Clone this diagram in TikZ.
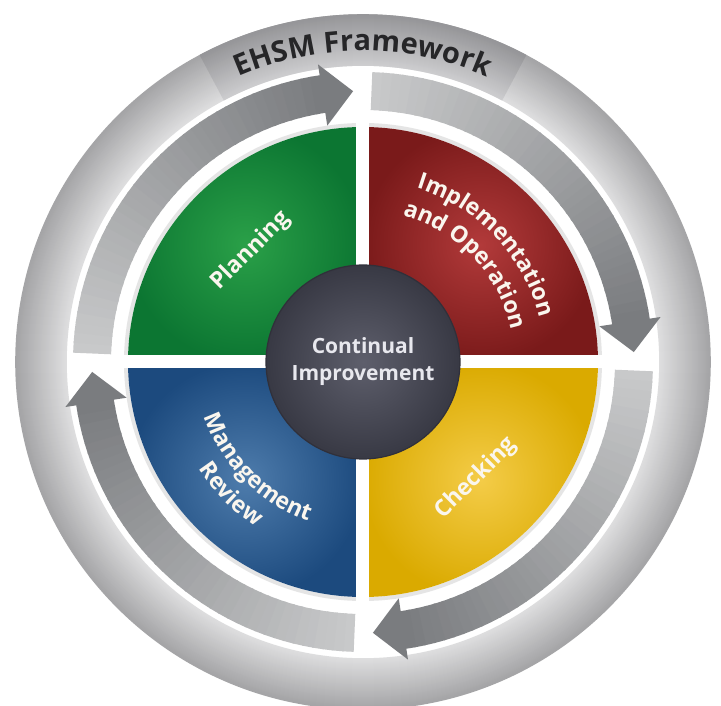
\documentclass[tikz,border=0pt]{standalone}
\usepackage{fontspec}
\setmainfont{Open Sans}
\usetikzlibrary{decorations.text}
\definecolor{ringlight}{RGB}{222,222,223}
\definecolor{ringdark}{RGB}{165,165,167}
\definecolor{bandlight}{RGB}{205,205,207}
\definecolor{banddark}{RGB}{150,150,153}
\definecolor{arrowlight}{RGB}{200,201,202}
\definecolor{arrowdark}{RGB}{122,124,127}
\definecolor{titlegray}{RGB}{38,38,40}
\definecolor{greenA}{RGB}{42,160,72}
\definecolor{greenB}{RGB}{12,118,50}
\definecolor{redA}{RGB}{178,58,58}
\definecolor{redB}{RGB}{122,26,26}
\definecolor{yelA}{RGB}{244,204,72}
\definecolor{yelB}{RGB}{218,170,0}
\definecolor{bluA}{RGB}{78,124,172}
\definecolor{bluB}{RGB}{28,74,126}
\definecolor{coreA}{RGB}{94,95,108}
\definecolor{coreB}{RGB}{56,57,68}
\definecolor{labelwhite}{RGB}{250,246,238}
\definecolor{coretext}{RGB}{232,232,238}
\newcommand\lblfont{\fontsize{23}{28}\selectfont\bfseries}
\newcommand\titlefont{\fontsize{29}{34}\selectfont\bfseries}
\tikzset{
  quadlabel/.style={rotate=45, text=labelwhite, font=\lblfont, inner sep=0pt},
  arclabel/.style={decorate, decoration={text along path, text={|\lblfont|#1}, text align=center, text color=labelwhite}},
  gapline/.style={white, line width=13},
}
\begin{document}
\begin{tikzpicture}[x=1pt,y=1pt]
\useasboundingbox (-363,-344) rectangle (358,362);
\fill[white] (-363,-344) rectangle (358,362);
% outer ring
\foreach \i in {0,...,50}{
  \pgfmathtruncatemacro\ringp{2*\i}
  \draw[ringdark!\ringp!ringlight, line width=1.6] (0,0) circle[radius=297+\i];
}
% title band
\foreach \i in {0,...,50}{
  \pgfmathtruncatemacro\ringp{2*\i}
  \draw[banddark!\ringp!bandlight, line width=1.6] (118:297+\i) arc[start angle=118, end angle=62, radius=297+\i];
}
% title
\path[decorate, decoration={text along path, text={|\titlefont|EHSM Framework}, text align=center, text color=titlegray}]
  (155:311) arc[start angle=155, end angle=25, radius=311];
% arrows
\foreach \ax in {180,90,0,270}{
  \foreach \k in {0,...,39}{
    \pgfmathsetmacro\angA{\ax-1.8-\k*1.99}
    \pgfmathsetmacro\angB{\angA-2.4}
    \pgfmathtruncatemacro\arrp{100*\k/39}
    \draw[arrowdark!\arrp!arrowlight, line width=38] (\angA:271) arc[start angle=\angA, end angle=\angB, radius=271];
  }
  \pgfmathsetmacro\headbase{\ax-90+8.6}
  \pgfmathsetmacro\headtip{\ax-90+2.1}
  \fill[arrowdark] (\headbase:239) -- (\headtip:271) -- (\headbase:301) -- cycle;
}
% quadrants
\draw[gray!20, line width=4] (0,0) circle[radius=237];
\shade[inner color=greenA, outer color=greenB] (0,0) -- (180:235) arc[start angle=180, end angle=90, radius=235] -- cycle;
\shade[inner color=redA, outer color=redB] (0,0) -- (90:235) arc[start angle=90, end angle=0, radius=235] -- cycle;
\shade[inner color=yelA, outer color=yelB] (0,0) -- (0:235) arc[start angle=0, end angle=-90, radius=235] -- cycle;
\shade[inner color=bluA, outer color=bluB] (0,0) -- (270:235) arc[start angle=270, end angle=180, radius=235] -- cycle;
\draw[gapline] (-240,0) -- (240,0);
\draw[gapline] (0,-240) -- (0,240);
% core
\node[circle, minimum size=194, inner color=coreA, outer color=coreB, draw=coreB!85!black, line width=1.2,
      align=center, text=coretext, font=\fontsize{21}{27}\selectfont\bfseries] (core) at (0,0) {Continual\\Improvement};
% labels
\node[quadlabel] (planning) at (-112,111) {Planning};
\node[quadlabel] (checking) at (113,-116) {Checking};
\path[arclabel=Implementation] (87:182) arc[start angle=87, end angle=0, radius=182];
\path[arclabel=and Operation] (87:152) arc[start angle=87, end angle=0, radius=152];
\path[arclabel=Management] (180:168) arc[start angle=180, end angle=270, radius=168];
\path[arclabel=Review] (180:196) arc[start angle=180, end angle=270, radius=196];
\end{tikzpicture}
\end{document}
